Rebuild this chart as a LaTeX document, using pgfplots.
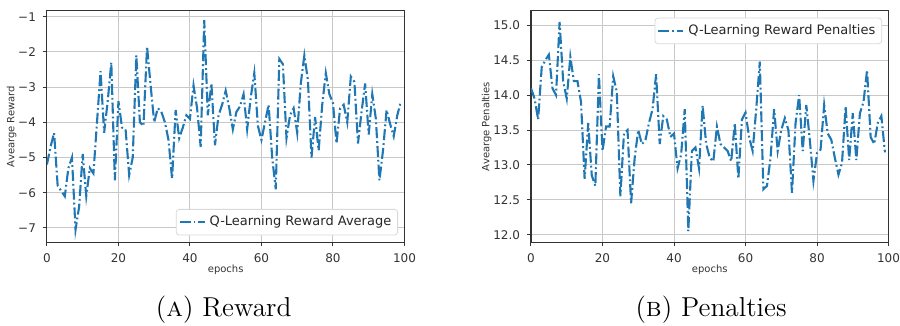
\documentclass[border=0pt]{standalone}
\usepackage{pgfplots}
\pgfplotsset{compat=1.18}
\usepackage{fontspec}
\newfontfamily\dejavu{DejaVu Sans}
\definecolor{mplblue}{HTML}{1F77B4}
\definecolor{gridc}{HTML}{C8C8C8}
\definecolor{axc}{HTML}{333333}
\pgfplotsset{
  myaxis/.style={
    scale only axis, width=179pt, height=116pt,
    xmin=0, xmax=100, xtick={0,20,...,100},
    grid=major, grid style={gridc, line width=0.5pt},
    axis line style={axc, line width=0.55pt},
    tick align=outside, tick pos=left, major tick length=2pt,
    tick style={axc, line width=0.5pt},
    ticklabel style={font=\dejavu\fontsize{6}{7}\selectfont, text=axc},
    label style={font=\dejavu\fontsize{5}{6}\selectfont, text=axc},
    /pgf/number format/assume math mode=true,
    xlabel={epochs},
    xlabel style={yshift=5.5pt},
    ylabel shift=-6pt,
    legend style={font=\dejavu\fontsize{6.5}{8}\selectfont, draw=black!15, rounded corners=1.5pt, fill=white, inner sep=1.2pt, text=black!85},
    legend cell align=left,
    legend image code/.code={\draw[#1] (0pt,0pt) -- (12.5pt,0pt);},
  },
  myline/.style={mplblue, line width=1.05pt, dash pattern=on 5.5pt off 1.5pt on 0.9pt off 1.5pt},
}
\begin{document}
\begin{tikzpicture}
\begin{axis}[myaxis,
  ymin=-7.41, ymax=-0.83,
  ytick={-7,-6,-5,-4,-3,-2,-1},
  yticklabels={−7,−6,−5,−4,−3,−2,−1},
  ylabel={Avearge Reward},
  legend style={at={(0.982,0.03)}, anchor=south east},
]
\addplot[myline] coordinates {
(0,-5.2) (1,-4.7) (2,-4.3) (3,-5.8) (4,-5.95) (5,-6.1) (6,-5.3) (7,-5.0) (8,-7.05) (9,-6.4)
(10,-4.9) (11,-6.1) (12,-5.3) (13,-5.45) (14,-4.0) (15,-2.55) (16,-4.3) (17,-3.4) (18,-2.3) (19,-5.65)
(20,-3.4) (21,-4.15) (22,-4.2) (23,-5.5) (24,-5.0) (25,-2.1) (26,-4.0) (27,-4.1) (28,-1.85) (29,-2.95)
(30,-4.0) (31,-3.6) (32,-3.7) (33,-4.0) (34,-4.5) (35,-5.6) (36,-3.65) (37,-4.45) (38,-4.15) (39,-3.8)
(40,-3.9) (41,-2.95) (42,-3.6) (43,-4.7) (44,-1.1) (45,-3.8) (46,-2.9) (47,-4.65) (48,-3.8) (49,-3.5)
(50,-3.1) (51,-3.6) (52,-4.2) (53,-3.7) (54,-3.55) (55,-3.2) (56,-4.2) (57,-3.3) (58,-2.6) (59,-4.1)
(60,-4.5) (61,-4.0) (62,-3.5) (63,-5.0) (64,-5.9) (65,-2.2) (66,-2.35) (67,-4.45) (68,-3.8) (69,-3.6)
(70,-4.3) (71,-2.9) (72,-2.1) (73,-2.8) (74,-5.0) (75,-3.85) (76,-4.8) (77,-3.5) (78,-2.6) (79,-3.2)
(80,-3.45) (81,-4.6) (82,-3.6) (83,-3.5) (84,-4.0) (85,-2.7) (86,-2.85) (87,-4.6) (88,-3.7) (89,-2.9)
(90,-4.35) (91,-3.2) (92,-3.9) (93,-5.65) (94,-4.8) (95,-3.65) (96,-4.05) (97,-4.4) (98,-3.8) (99,-3.4)
};
\addlegendentry{Q-Learning Reward Average}
\end{axis}
\begin{axis}[myaxis, at={(242.35pt,0pt)},
  ymin=11.89, ymax=15.21,
  ytick={12,12.5,13,13.5,14,14.5,15},
  yticklabel style={/pgf/number format/fixed, /pgf/number format/precision=1, /pgf/number format/fixed zerofill},
  ylabel={Avearge Penalties},
  legend style={at={(0.982,0.97)}, anchor=north east},
]
\addplot[myline] coordinates {
(0,14.1) (1,13.95) (2,13.65) (3,14.4) (4,14.5) (5,14.58) (6,14.1) (7,14.0) (8,15.05) (9,14.2)
(10,13.95) (11,14.55) (12,14.2) (13,14.2) (14,13.9) (15,12.8) (16,13.6) (17,12.85) (18,12.7) (19,14.3)
(20,13.2) (21,13.55) (22,13.55) (23,14.27) (24,14.05) (25,12.55) (26,13.45) (27,13.5) (28,12.45) (29,13.1)
(30,13.5) (31,13.3) (32,13.35) (33,13.6) (34,13.8) (35,14.3) (36,13.3) (37,13.7) (38,13.65) (39,13.4)
(40,13.45) (41,12.95) (42,13.15) (43,13.8) (44,12.05) (45,13.2) (46,13.25) (47,12.95) (48,13.85) (49,13.3)
(50,13.1) (51,13.05) (52,13.55) (53,13.3) (54,13.25) (55,13.2) (56,13.05) (57,13.6) (58,12.8) (59,13.65)
(60,13.75) (61,13.4) (62,13.2) (63,13.8) (64,14.48) (65,12.65) (66,12.7) (67,13.1) (68,13.8) (69,13.2)
(70,13.5) (71,13.67) (72,13.5) (73,12.6) (74,13.6) (75,14.0) (76,13.2) (77,13.86) (78,13.35) (79,12.77)
(80,13.17) (81,13.22) (82,13.86) (83,13.45) (84,13.36) (85,13.1) (86,12.86) (87,13.03) (88,13.84) (89,13.07)
(90,13.74) (91,13.07) (92,13.74) (93,13.9) (94,14.36) (95,13.4) (96,13.3) (97,13.6) (98,13.7) (99,13.18)
};
\addlegendentry{Q-Learning Reward Penalties}
\end{axis}
\node[font=\fontsize{13.7}{15}\selectfont] at (88.5pt,-33.6pt) {(\textsc{a}) Reward};
\node[font=\fontsize{13.7}{15}\selectfont] at (332.5pt,-33.6pt) {(\textsc{b}) Penalties};
\pgfresetboundingbox
\path[use as bounding box] (-23.5pt,-41.65pt) rectangle (427.1pt,121.35pt);
\end{tikzpicture}
\end{document}
